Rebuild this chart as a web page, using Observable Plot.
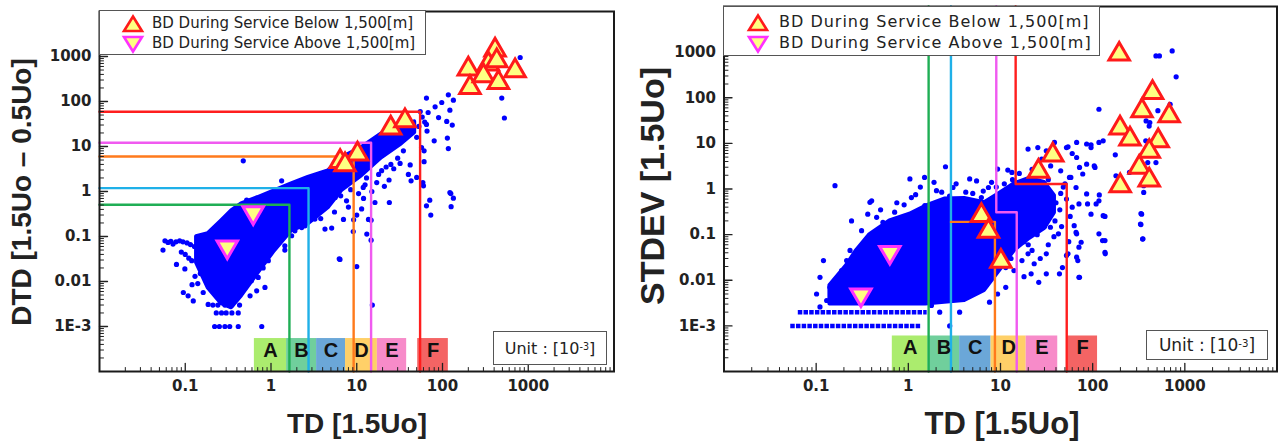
<!DOCTYPE html>
<html>
<head>
<meta charset="utf-8">
<script src="https://cdn.jsdelivr.net/npm/d3@7"></script>
<script src="https://cdn.jsdelivr.net/npm/@observablehq/plot@0.6"></script>
<style>
  body { margin: 0; background: #fff; }
  #wrap { position: relative; width: 1278px; height: 441px; overflow: hidden; background: #fff; }
  .panel { position: absolute; top: 0; }
  .legend { position: absolute; background: #fff; border: 1px solid #555; box-sizing: border-box; font-family: "DejaVu Sans", sans-serif; color: #222; }
  .legend .row { position: absolute; white-space: nowrap; line-height: 1; }
  .legend svg { position: absolute; }
  .unit { position: absolute; background: #fff; border: 1px solid #555; box-sizing: border-box; font-family: "DejaVu Sans", sans-serif; color: #222; display: flex; align-items: center; justify-content: center; white-space: nowrap; }
  .unit sup { font-size: 0.6em; position: relative; top: -0.15em; }
  .title { position: absolute; font-family: "Liberation Sans", Arial, sans-serif; font-weight: bold; color: #222; white-space: nowrap; line-height: 1; transform-origin: center center; }
</style>
</head>
<body>
<div id="wrap"></div>
<script>
// ---------------- data ----------------
const tdTickValues = [0.1, 1, 10, 100, 1000];
const tdTickLabels = ["0.1", "1", "10", "100", "1000"];
const vTickValues = [0.001, 0.01, 0.1, 1, 10, 100, 1000];
const vTickLabels = ["1E-3", "0.01", "0.1", "1", "10", "100", "1000"];
const zoneLabels = ["A", "B", "C", "D", "E", "F"];
const zoneColors = ["#abec6e", "#70cf9c", "#6ba7d8", "#ffd068", "#f78bc9", "#f46464"];

// Left panel: DTD vs TD
const leftZoneFrom = [0.64, 1.52, 3.4, 7.4, 17.4, 51.4];
const leftZoneTo = [1.52, 3.4, 7.4, 17.4, 38.2, 117];
const leftZoneTop = 0.00054;
const leftStepTD = [1.64, 2.74, 9.2, 14.7, 54.8];
const leftStepDTD = [0.506, 1.19, 6.0, 12.1, 59];
const stepColors = ["#1fae55", "#1fb0e8", "#ff7a1c", "#f05af0", "#ff1e1e"];

const leftCoreTD = [0.1355, 0.185, 0.265, 0.347, 0.454, 0.711, 1.10, 1.74, 2.72, 4.66, 6.67, 11.4, 19.5, 33.4, 47.4];
const leftCoreLow = [0.026, 0.0072, 0.0032, 0.0026, 0.0048, 0.0156, 0.048, 0.134, 0.191, 0.434, 1.04, 2.23, 5.6, 11.5, 20.2];
const leftCoreHigh = [0.0985, 0.115, 0.223, 0.372, 0.533, 0.736, 1.04, 1.48, 2.05, 2.88, 5.6, 9.4, 19.1, 26, 35.4];

const leftScatter = [
  [0.058,0.080],[0.063,0.074],[0.072,0.068],[0.086,0.080],[0.055,0.050],[0.079,0.024],[0.099,0.019],
  [0.119,0.029],[0.142,0.034],[0.095,0.0057],[0.108,0.0048],[0.124,0.0037],[0.162,0.0057],[0.185,0.0031],
  [0.068,0.078],[0.078,0.076],[0.094,0.076],[0.105,0.072],[0.115,0.066],[0.128,0.06],[0.09,0.045],
  [0.1,0.04],[0.11,0.033],[0.13,0.013],[0.14,0.009],[0.15,0.015],[0.12,0.0085],
  [0.21,0.003],[0.24,0.003],[0.29,0.003],[0.35,0.003],[0.43,0.003],
  [0.23,0.002],[0.265,0.002],[0.30,0.002],[0.35,0.002],[0.415,0.002],
  [0.22,0.001],[0.25,0.001],[0.29,0.001],[0.33,0.001],[0.415,0.001],[0.78,0.001],
  [0.57,0.0048],[0.68,0.0062],[0.85,0.0074],[0.59,0.0104],[0.71,0.0123],[0.81,0.020],[0.93,0.029],
  [1.45,0.062],[1.45,0.050],[1.74,0.104],[1.90,0.134],[2.49,0.173],[3.25,0.244],[4.26,0.146],[6.37,0.031],
  [0.243,0.134],[0.277,0.205],[0.347,0.288],[0.203,0.123],[0.475,4.8],[0.52,0.64],[1.33,1.73],
  [2.28,0.158],[5.1,0.154],[6.25,0.032],[10,0.0215],[15.2,0.003],[14.7,0.23],[14.7,0.083],[9.2,0.235],
  [7.0,0.24],[5.6,0.74],[7.6,0.62],[16.3,0.57],[13.1,0.113],[9.1,0.129],[10,0.30],[13.7,0.24],[11.4,0.41],
  [12.5,1.41],[11.9,1.23],[17.1,1.58],[23.8,1.8],[19.5,2.9],[40,2.4],[24,0.57],[25,4],[30,5.5],[22,3.5],[35,8],
  [65,119],[117,141],[134,107],[98,95],[82,76],[122,64],[68,57],[90,44],[112,36],[130,30],[65,31],
  [491,119],[527,43],[80,13.4],[114,15.4],[117,9.0],[61,8.0],[42,3.9],[50,2.05],[60,1.34],[43,1.73],
  [122,0.95],[134,0.71],[71,0.64],[65,0.48],[73,0.30],[126,0.46],[61,4.6],[57,9.5],[59,1.58],[805,950],[125,0.90],
  [55,60],[58,45],[62,35],[53,28],[66,22],[50,16],
  [2.2,0.3],[3,0.4],[3.8,0.25],[4.5,0.5],[5.5,0.35],[6.5,0.8],[8,0.45],[8.5,1.1],[10.5,0.9],[12,0.7],
  [13,2.0],[15,1.0],[18,2.4],[21,1.3],[27,3.2],[32,4.2]
];
const leftUpTD = [200, 410, 343, 702, 209, 300, 449, 429, 24.9, 36.5, 6.4, 10.2, 7.3];
const leftUpDTD = [525, 1387, 678, 481, 205, 373, 264, 802, 25.6, 37.3, 4.6, 6.8, 3.9];
const leftDownTD = [0.62, 0.309];
const leftDownDTD = [0.34, 0.059];

// Right panel: STDEV vs TD
const rightZoneFrom = [0.67, 1.64, 3.6, 7.9, 19, 53.6];
const rightZoneTo = [1.64, 3.6, 7.9, 19, 41.8, 113];
const rightZoneTop = 0.0006;
const rightStepFromTop = [true, true, false, true, true];
const rightStepTD1 = [1.66, 2.9, 2.9, 9.0, 14.6];
const rightStepLevel = [null, null, 0.19, 0.31, 1.29];
const rightStepTD2 = [1.66, 2.9, 8.7, 15.0, 52.3];

const rightCoreTD = [0.141, 0.214, 0.275, 0.383, 0.631, 1.04, 1.55, 2.48, 4.09, 6.73, 9.78, 14.2, 20.6, 30, 38.5];
const rightCoreLow = [0.003, 0.003, 0.003, 0.003, 0.003, 0.003, 0.003, 0.0033, 0.0036, 0.006, 0.0163, 0.045, 0.082, 0.135, 0.30];
const rightCoreHigh = [0.0077, 0.021, 0.045, 0.1, 0.2, 0.28, 0.42, 0.6, 0.62, 0.5, 0.8, 1.3, 1.7, 1.4, 0.71];
const rightRowValue = [0.002, 0.001];
const rightRowFrom = [0.064, 0.053];
const rightRowTo = [1.6, 1.36];

const rightScatter = [
  [0.160,1.18],[0.383,0.51],[0.120,0.027],[0.110,0.0116],[0.101,0.005],[0.214,0.027],[0.233,0.045],[0.311,0.122],
  [0.453,0.239],[0.189,0.0163],[0.141,0.007],[0.160,0.0042],[0.130,0.0036],[0.110,0.0026],[1.04,1.66],[1.08,0.65],
  [1.51,0.43],[2.53,3.07],[2.02,0.92],[3.05,1.08],[3.61,0.55],[4.63,1.66],[0.71,0.31],[0.53,0.186],[2.19,0.002],
  [3.6,0.002],[2.81,0.001],[1.78,0.0028],[7.4,1.08],[6.2,0.65],[9.3,2.74],[13.3,2.31],[19.9,7.5],[31.4,6.9],
  [38.5,10.5],[52,8.1],[67,10.5],[86,9.7],[96,8.1],[117,56],[117,10.5],[130,11.4],[67,4.9],[86,3.5],[106,2.97],
  [78,2.13],[58,1.79],[86,0.78],[71,0.47],[96,0.28],[117,0.55],[130,0.26],[117,0.104],[136,0.041],[136,0.074],
  [67,0.104],[71,0.053],[67,0.032],[71,0.0116],[52,0.035],[47,0.019],[42.5,0.104],[34.8,0.145],[31.4,0.038],
  [23.2,0.023],[31.4,0.0138],[19.9,0.038],[14,0.0163],[11.4,0.007],[9.3,0.005],[7.6,0.0033],[11.4,0.019],[17.1,0.027],
  [358,0.84],[340,0.28],[330,0.17],[351,0.081],[486,826],[530,826],[729,1062],[805,287],[693,72],[510,52],[417,28.7],
  [377,11.4],[396,3.8],[251,2.31],[176,5.6],[358,1.18],[380,31],[410,24],[486,3.8],[334,0.29],[334,0.166],[348,0.080],
  [179,1.95],[118,0.74],[136,0.25],[128,0.074],[137,0.038],[96,9.3],[54,8.4],[25.4,8.1],[104,3.2],[72,2.97],[56,1.79],
  [66,1.08],[88,0.47],[109,0.47],[63,0.157],[66,0.112],[75,0.068],[54,0.038],[69,0.027],[72,0.0116],[43.6,0.0138],
  [21.5,0.0138],[1.5,1.79],[0.363,0.28],[0.242,0.20],[0.40,0.55],
  [28,4.5],[35,3.2],[45,2.5],[42,5],[60,6],[33,1.6],[50,1.3],[24,1.4],
  [12,0.05],[16,0.09],[20,0.06],[25,0.1],[28,0.2],[35,0.3],[40,0.5],[45,0.8],[18,0.012],[26,0.009],[13,0.03],
  [0.5,0.35],[0.75,0.5],[1.35,1.1],[1.9,1.4],[3.3,1.3],[5.5,1.5],[8,1.4],[12,2.6],[16,2.2],[22,2.7],
  [15,0.6],[17,0.35],[19,0.9],[21,0.25],[23,0.5],[26,0.7],[29,0.4],[32,1.0],[36,0.7],[39,0.2],[44,0.35],
  [48,1.1],[52,0.6],[57,0.25],[15,0.15],[18,0.07],[22,0.045],[27,0.03],[33,0.06],[38,0.09],[46,0.15],[55,0.07],
  [60,0.4],[30,0.15],[24,0.18],[13,0.25],[11,0.12],[12.5,0.6],[10.5,0.3],[16.5,1.2],
  [0.9,0.45],[1.2,0.75],[2.3,0.85],[2.8,0.7],[4.2,0.85],[5,0.8],[6.5,0.9],[9,1.1],[11,1.3],[13.5,1.6]
];
const rightUpTD = [194, 446, 343, 676, 198, 254, 514, 411, 320, 411, 199, 36.9, 25.8, 6.2, 7.4, 10.1];
const rightUpSTDEV = [900, 130, 51.7, 40.2, 21.6, 12.4, 11.4, 6.65, 2.97, 1.57, 1.18, 5.55, 2.43, 0.26, 0.118, 0.026];
const rightDownTD = [0.63, 0.306];
const rightDownSTDEV = [0.041, 0.0048];

// ---------------- drawing ----------------
const TD_DOMAIN = [0.01, 10000];
const V_DOMAIN = [0.0001, 10000];
const BLUE = "#0000ff";
const TICK_FONT = "DejaVu Sans, sans-serif";

function minorTicks(lo, hi) {
  const out = [];
  for (let e = lo; e < hi; e++) for (let m = 2; m <= 9; m++) out.push(m * Math.pow(10, e));
  return out;
}
function majorTicks(lo, hi) {
  const out = [];
  for (let e = lo; e <= hi; e++) out.push(Math.pow(10, e));
  return out;
}
const tdLabelMap = new Map(tdTickValues.map((v, i) => [v, tdTickLabels[i]]));
const vLabelMap = new Map(vTickValues.map((v, i) => [v, vTickLabels[i]]));

const downTriangle = {
  draw(context, size) {
    const y = Math.sqrt(size / (3 * Math.sqrt(3)));
    context.moveTo(0, 2 * y);
    context.lineTo(-Math.sqrt(3) * y, -y);
    context.lineTo(Math.sqrt(3) * y, -y);
    context.closePath();
  }
};
const tickUp = {draw(context, l) { context.moveTo(0, 0); context.lineTo(0, -l); }};
const tickRight = {draw(context, l) { context.moveTo(0, 0); context.lineTo(l, 0); }};

function makePanel(p) {
  const idx = n => d3.range(n);
  const marks = [];
  marks.push(Plot.rect(idx(6), {
    x1: i => p.zoneFrom[i], x2: i => p.zoneTo[i],
    y1: () => V_DOMAIN[0], y2: () => p.zoneTop,
    fill: i => zoneColors[i]
  }));
  marks.push(Plot.areaY(idx(p.coreTD.length), {
    x: i => p.coreTD[i], y1: i => p.coreLow[i], y2: i => p.coreHigh[i],
    fill: BLUE, stroke: BLUE, strokeWidth: 4, strokeLinejoin: "round"
  }));
  if (p.rowValue) {
    marks.push(Plot.ruleY(idx(p.rowValue.length), {
      y: i => p.rowValue[i], x1: i => p.rowFrom[i], x2: i => p.rowTo[i],
      stroke: BLUE, strokeWidth: 4.5, strokeDasharray: "4.5 1.2"
    }));
  }
  marks.push(Plot.dot(p.scatter, {x: d => d[0], y: d => d[1], r: 2.6, fill: BLUE}));
  p.steps.forEach((pts, k) => {
    marks.push(Plot.line(pts, {x: d => d[0], y: d => d[1], stroke: stepColors[k], strokeWidth: 2.4}));
  });
  marks.push(Plot.text(idx(6), {
    x: i => Math.sqrt(p.zoneFrom[i] * p.zoneTo[i]), text: i => zoneLabels[i],
    frameAnchor: "bottom", dy: p.letterDy, fontSize: p.letterSize, fontWeight: "bold",
    fontFamily: "Liberation Sans, Arial, sans-serif", fill: "#111"
  }));
  marks.push(Plot.dot(idx(p.upTD.length), {
    x: i => p.upTD[i], y: i => p.upV[i], symbol: "triangle", r: 7.6,
    fill: "#ffff82", stroke: "#ff1a1a", strokeWidth: 3, strokeLinejoin: "miter"
  }));
  marks.push(Plot.dot(idx(p.downTD.length), {
    x: i => p.downTD[i], y: i => p.downV[i], symbol: downTriangle, r: 7.6,
    fill: "#ffff82", stroke: "#ff30ff", strokeWidth: 3, strokeLinejoin: "miter"
  }));
  // inward tick marks
  marks.push(Plot.vector(minorTicks(-2, 4), {x: d => d, frameAnchor: "bottom", length: 4, anchor: "start", shape: tickUp, stroke: "#222", strokeWidth: 1}));
  marks.push(Plot.vector(majorTicks(-1, 3), {x: d => d, frameAnchor: "bottom", length: 8, anchor: "start", shape: tickUp, stroke: "#222", strokeWidth: 1.3}));
  marks.push(Plot.vector(minorTicks(-4, 4), {y: d => d, frameAnchor: "left", length: 4, anchor: "start", shape: tickRight, stroke: "#222", strokeWidth: 1}));
  marks.push(Plot.vector(majorTicks(-3, 3), {y: d => d, frameAnchor: "left", length: 8, anchor: "start", shape: tickRight, stroke: "#222", strokeWidth: 1.3}));
  // tick labels
  marks.push(Plot.axisX({ticks: tdTickValues, tickSize: 0, tickPadding: 9, label: null,
    tickFormat: d => tdLabelMap.get(d) ?? "", fontSize: 15, fontWeight: "bold", fontFamily: TICK_FONT, fill: "#222"}));
  marks.push(Plot.axisY({ticks: vTickValues, tickSize: 0, tickPadding: 8, label: null,
    tickFormat: d => vLabelMap.get(d) ?? "", fontSize: 15, fontWeight: "bold", fontFamily: TICK_FONT, fill: "#222"}));
  marks.push(Plot.frame({stroke: "#1a1a1a", strokeWidth: 2}));

  const svg = Plot.plot({
    width: p.width, height: 441,
    marginLeft: p.ml, marginRight: p.mr, marginTop: p.mt, marginBottom: 70,
    x: {type: "log", domain: TD_DOMAIN, axis: null},
    y: {type: "log", domain: V_DOMAIN, axis: null},
    color: {type: "identity"},
    style: {background: "transparent", overflow: "visible"},
    marks
  });
  svg.classList.add("panel");
  svg.style.left = p.left + "px";
  return svg;
}

const leftSteps = leftStepTD.map((x, i) => [
  [TD_DOMAIN[0], leftStepDTD[i]], [x, leftStepDTD[i]], [x, V_DOMAIN[0]]
]);
const rightSteps = rightStepTD1.map((x1, i) => {
  const lvl = rightStepLevel[i], x2 = rightStepTD2[i];
  const pts = [];
  if (rightStepFromTop[i]) pts.push([x1, V_DOMAIN[1]]);
  if (lvl !== null) { pts.push([x1, lvl]); pts.push([x2, lvl]); }
  pts.push([x2, V_DOMAIN[0]]);
  return pts;
});

const wrap = document.getElementById("wrap");
wrap.appendChild(makePanel({
  left: 0, width: 640, ml: 99, mr: 26.5, mt: 11,
  zoneFrom: leftZoneFrom, zoneTo: leftZoneTo, zoneTop: leftZoneTop,
  coreTD: leftCoreTD, coreLow: leftCoreLow, coreHigh: leftCoreHigh,
  scatter: leftScatter, steps: leftSteps,
  upTD: leftUpTD, upV: leftUpDTD, downTD: leftDownTD, downV: leftDownDTD,
  letterDy: -15, letterSize: 20
}));
wrap.appendChild(makePanel({
  left: 640, width: 638, ml: 83.5, mr: 1.5, mt: 6,
  zoneFrom: rightZoneFrom, zoneTo: rightZoneTo, zoneTop: rightZoneTop,
  coreTD: rightCoreTD, coreLow: rightCoreLow, coreHigh: rightCoreHigh,
  rowValue: rightRowValue, rowFrom: rightRowFrom, rowTo: rightRowTo,
  scatter: rightScatter, steps: rightSteps,
  upTD: rightUpTD, upV: rightUpSTDEV, downTD: rightDownTD, downV: rightDownSTDEV,
  letterDy: -18, letterSize: 20
}));

// ---------------- legends, unit boxes, titles ----------------
const legendEntries = ["BD During Service Below 1,500[m]", "BD During Service Above 1,500[m]"];
function addLegend(o) {
  const box = document.createElement("div");
  box.className = "legend";
  Object.assign(box.style, {left: o.left + "px", top: o.top + "px", width: o.width + "px", height: o.height + "px",
    fontSize: o.fontSize + "px", letterSpacing: o.spacing + "px"});
  const up = `<svg width="24" height="20" style="left:${o.iconX}px;top:${o.row1 - 10}px"><polygon points="12,2.5 21,17 3,17" fill="#ffff82" stroke="#ff1a1a" stroke-width="2.6"/></svg>`;
  const dn = `<svg width="24" height="20" style="left:${o.iconX}px;top:${o.row2 - 10}px"><polygon points="3,3 21,3 12,17.5" fill="#ffff82" stroke="#ff30ff" stroke-width="2.6"/></svg>`;
  box.innerHTML = up + dn +
    `<div class="row" style="left:${o.textX}px;top:${o.row1 - o.fontSize * 0.55}px">${legendEntries[0]}</div>` +
    `<div class="row" style="left:${o.textX}px;top:${o.row2 - o.fontSize * 0.55}px">${legendEntries[1]}</div>`;
  wrap.appendChild(box);
}
addLegend({left: 99, top: 10, width: 327, height: 45, fontSize: 15, spacing: 0, iconX: 21, textX: 52, row1: 13, row2: 33});
addLegend({left: 723, top: 6, width: 377, height: 50, fontSize: 16, spacing: 1, iconX: 22, textX: 55, row1: 15.5, row2: 37});

function addUnit(o) {
  const u = document.createElement("div");
  u.className = "unit";
  Object.assign(u.style, {left: o.left + "px", top: o.top + "px", width: o.width + "px", height: o.height + "px", fontSize: o.fontSize + "px"});
  u.innerHTML = "Unit : [10<sup>-3</sup>]";
  wrap.appendChild(u);
}
addUnit({left: 493, top: 331, width: 114, height: 34, fontSize: 16});
addUnit({left: 1146, top: 330, width: 122, height: 30, fontSize: 17});

function addTitle(text, cx, cy, size, rotate) {
  const t = document.createElement("div");
  t.className = "title";
  t.textContent = text;
  t.style.fontSize = size + "px";
  wrap.appendChild(t);
  const w = t.offsetWidth, h = t.offsetHeight;
  t.style.left = (cx - w / 2) + "px";
  t.style.top = (cy - h / 2) + "px";
  if (rotate) t.style.transform = `rotate(${rotate}deg)`;
}
addTitle("DTD [1.5Uo – 0.5Uo]", 22, 192, 28, -90);
addTitle("TD [1.5Uo]", 357, 424, 28, 0);
addTitle("STDEV [1.5Uo]", 652, 186, 34, -90);
addTitle("TD [1.5Uo]", 1002, 423, 31, 0);
</script>
</body>
</html>
